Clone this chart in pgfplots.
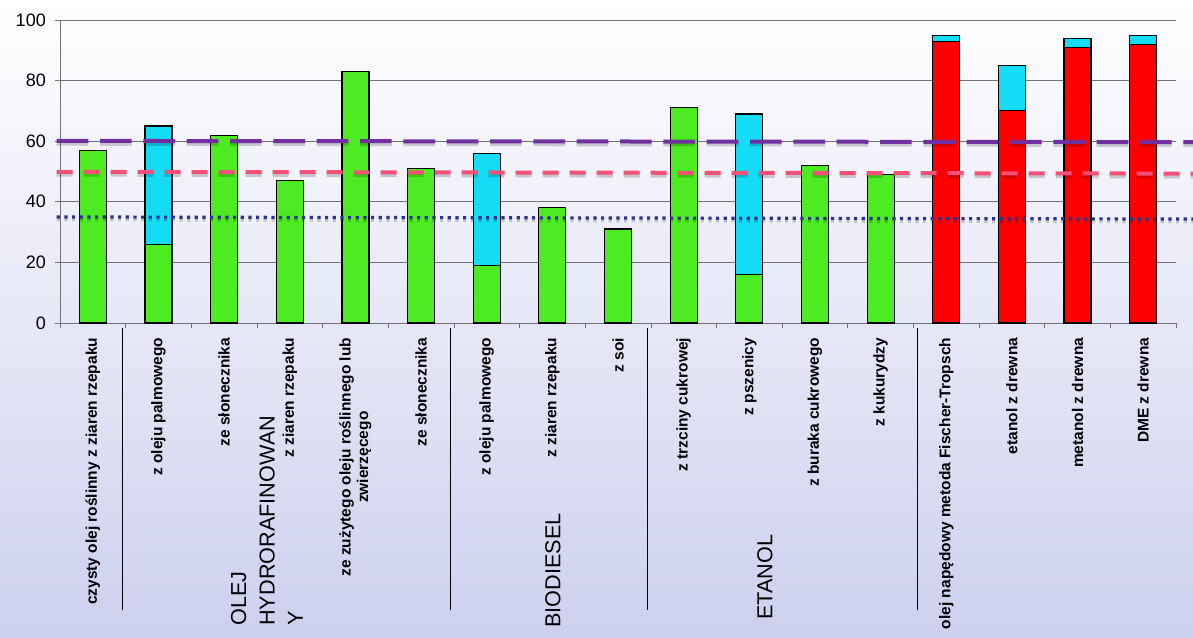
\documentclass[border=0pt]{standalone}
\usepackage{fontspec}
\setmainfont{Liberation Sans}
\usepackage{pgfplots}
\pgfplotsset{compat=1.18}
\definecolor{bgbot}{HTML}{CDD0EE}
\definecolor{gr}{HTML}{4DEB22}
\definecolor{cy}{HTML}{14DCF5}
\definecolor{rd}{HTML}{FF0000}
\definecolor{pur}{HTML}{7030A0}
\definecolor{pnk}{HTML}{F45078}
\definecolor{nav}{HTML}{2E3192}
\def\u{0.6pt}
\begin{document}
\begin{tikzpicture}[lab/.style={rotate=90, anchor=east, align=center, font=\bfseries\fontsize{9.3}{10.5}\selectfont}]
\shade[top color=white, bottom color=bgbot] (0,0) rectangle ({1193*\u},{638*\u});
\begin{axis}[
  at={({60*\u},{315*\u})}, anchor=south west,
  scale only axis, width={1116*\u}, height={303*\u},
  xmin=0, xmax=17, ymin=0, ymax=100,
  axis x line=bottom, axis y line=left,
  axis line style={-, draw=gray!90!black},
  tick align=outside, major tick length=3pt,
  tick style={draw=gray!90!black, thin},
  xtick={0,...,17}, xticklabels={},
  ytick={0,20,...,100},
  ymajorgrids, grid style={draw=gray!90!black, thin},
  /pgf/number format/assume math mode=true,
  yticklabel style={font=\fontsize{10.8}{12}\selectfont, xshift=-2pt},
  clip=false,
]
% cyan upper parts (drawn as totals, lower parts drawn over)
\addplot[ybar, bar width={27*\u}, bar shift=0pt, fill=cy, draw=black, line width=0.7pt]
  coordinates {(1.5,65) (6.5,56) (10.5,69) (13.5,95) (14.5,85) (15.5,94) (16.5,95)};
% green
\addplot[ybar, bar width={27*\u}, bar shift=0pt, fill=gr, draw=black, line width=0.7pt]
  coordinates {(0.5,57) (1.5,26) (2.5,62) (3.5,47) (4.5,83) (5.5,51) (6.5,19) (7.5,38) (8.5,31) (9.5,71) (10.5,16) (11.5,52) (12.5,49)};
% red
\addplot[ybar, bar width={27*\u}, bar shift=0pt, fill=rd, draw=black, line width=0.7pt]
  coordinates {(13.5,93) (14.5,70) (15.5,91) (16.5,92)};
% reference lines with soft shadows
\addplot[no marks, draw=black, opacity=0.18, line width=2.8pt, dash pattern=on 19pt off 7pt, yshift=-1.5pt] coordinates {(-0.05,60.1) (17.3,59.7)};
\addplot[no marks, draw=pur, line width=2.4pt, dash pattern=on 19pt off 7pt] coordinates {(-0.05,60.1) (17.3,59.7)};
\addplot[no marks, draw=black, opacity=0.18, line width=2.8pt, dash pattern=on 9.6pt off 6.6pt, yshift=-1.5pt] coordinates {(-0.05,49.9) (17.3,49.3)};
\addplot[no marks, draw=pnk, line width=2.4pt, dash pattern=on 9.6pt off 6.6pt] coordinates {(-0.05,49.9) (17.3,49.3)};
\addplot[no marks, draw=black, opacity=0.18, line width=2.2pt, dash pattern=on 1.9pt off 2.7pt, yshift=-1.5pt] coordinates {(-0.05,35.0) (17.3,34.3)};
\addplot[no marks, draw=nav, line width=1.9pt, dash pattern=on 1.9pt off 2.7pt] coordinates {(-0.05,35.0) (17.3,34.3)};
% category labels
\node[lab] at ([yshift={-9*\u}]axis cs:0.5,0) {czysty olej roślinny z ziaren rzepaku};
\node[lab] at ([yshift={-9*\u}]axis cs:1.5,0) {z oleju palmowego};
\node[lab] at ([yshift={-9*\u}]axis cs:2.5,0) {ze słonecznika};
\node[lab] at ([yshift={-9*\u}]axis cs:3.5,0) {z ziaren rzepaku};
\node[lab] at ([yshift={-9*\u}]axis cs:4.5,0) {ze zużytego oleju roślinnego lub\\zwierzęcego};
\node[lab] at ([yshift={-9*\u}]axis cs:5.5,0) {ze słonecznika};
\node[lab] at ([yshift={-9*\u}]axis cs:6.5,0) {z oleju palmowego};
\node[lab] at ([yshift={-9*\u}]axis cs:7.5,0) {z ziaren rzepaku};
\node[lab] at ([yshift={-9*\u}]axis cs:8.5,0) {z soi};
\node[lab] at ([yshift={-9*\u}]axis cs:9.5,0) {z trzciny cukrowej};
\node[lab] at ([yshift={-9*\u}]axis cs:10.5,0) {z pszenicy};
\node[lab] at ([yshift={-9*\u}]axis cs:11.5,0) {z buraka cukrowego};
\node[lab] at ([yshift={-9*\u}]axis cs:12.5,0) {z kukurydzy};
\node[lab] at ([yshift={-9*\u}]axis cs:13.5,0) {olej napędowy metoda Fischer-Tropsch};
\node[lab] at ([yshift={-9*\u}]axis cs:14.5,0) {etanol z drewna};
\node[lab] at ([yshift={-9*\u}]axis cs:15.5,0) {metanol z drewna};
\node[lab] at ([yshift={-9*\u}]axis cs:16.5,0) {DME z drewna};
\end{axis}
% group separators
\foreach \sx in {122,450,647,917} \draw[black, line width=0.6pt] ({\sx*\u},{(638-328)*\u}) -- ({\sx*\u},{(638-610)*\u});
% group labels
\node[rotate=90, anchor=west, align=left, inner sep=0pt, font=\fontsize{13}{17}\selectfont] at ({267*\u},{12*\u}) {OLEJ\\HYDRORAFINOWAN\\Y};
\node[rotate=90, anchor=west, inner sep=0pt, font=\fontsize{13}{17}\selectfont] at ({553*\u},{10*\u}) {BIODIESEL};
\node[rotate=90, anchor=west, inner sep=0pt, font=\fontsize{13}{17}\selectfont] at ({765*\u},{18*\u}) {ETANOL};
\pgfresetboundingbox
\useasboundingbox (0,0) rectangle ({1193*\u},{638*\u});
\end{tikzpicture}
\end{document}
